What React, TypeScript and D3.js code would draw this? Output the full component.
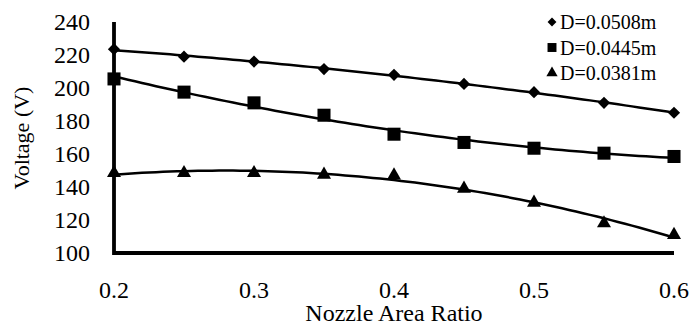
import React, { useEffect, useRef } from 'react';
import * as d3 from 'd3';

const ratios = [0.2, 0.25, 0.3, 0.35, 0.4, 0.45, 0.5, 0.55, 0.6];
const d0508 = [223.5, 219, 216, 211.5, 208, 202.5, 197.5, 191, 185];
const d0445 = [205.5, 197.5, 191, 183.5, 172, 167, 163.5, 160.5, 158.5];
const d0381 = [148.5, 148.5, 148.5, 147.5, 147, 139, 130.5, 118, 111];
const seriesNames = ['D=0.0508m', 'D=0.0445m', 'D=0.0381m'];
const xTicks = [0.2, 0.3, 0.4, 0.5, 0.6];
const yTicks = [100, 120, 140, 160, 180, 200, 220, 240];

// quadratic least squares trendline, like the spreadsheet one
function polyFit(xs: number[], ys: number[]) {
  const s = [0, 0, 0, 0, 0];
  const t = [0, 0, 0];
  xs.forEach((x, i) => {
    for (let k = 0; k < 5; k++) s[k] += Math.pow(x, k);
    for (let k = 0; k < 3; k++) t[k] += Math.pow(x, k) * ys[i];
  });
  const m = [
    [s[0], s[1], s[2], t[0]],
    [s[1], s[2], s[3], t[1]],
    [s[2], s[3], s[4], t[2]],
  ];
  for (let i = 0; i < 3; i++) {
    for (let j = i + 1; j < 3; j++) {
      const f = m[j][i] / m[i][i];
      for (let k = i; k < 4; k++) m[j][k] -= f * m[i][k];
    }
  }
  const c = [0, 0, 0];
  for (let i = 2; i >= 0; i--) {
    let v = m[i][3];
    for (let k = i + 1; k < 3; k++) v -= m[i][k] * c[k];
    c[i] = v / m[i][i];
  }
  return (x: number) => c[0] + c[1] * x + c[2] * x * x;
}

const FONT = "'Liberation Serif', 'Times New Roman', serif";

const App: React.FC = () => {
  const svgRef = useRef<SVGSVGElement>(null);

  useEffect(() => {
    document.body.style.margin = '0';
    const svgElement = svgRef.current;
    if (!svgElement) return;
    const svg = d3.select(svgElement);
    svg.selectAll('*').remove();

    const xScale = d3.scaleLinear().domain([0.2, 0.6]).range([114, 674]);
    const yScale = d3.scaleLinear().domain([100, 240]).range([253, 22]);

    const allSeries = [d0508, d0445, d0381];
    const symbols = [d3.symbolDiamond2, d3.symbolSquare, d3.symbolTriangle];
    const sizes = [95, 170, 85];

    // trendlines
    const line = d3.line<number>().x(d => xScale(d));
    const samples = d3.range(0.2, 0.6001, 0.005);
    allSeries.forEach((vals) => {
      const f = polyFit(ratios, vals);
      svg.append('path')
        .attr('d', line.y(d => yScale(f(d)))(samples))
        .attr('fill', 'none')
        .attr('stroke', '#000')
        .attr('stroke-width', 2.5);
    });

    // axes
    svg.append('path')
      .attr('d', `M${xScale(0.2)},${yScale(240)}V${yScale(100)}H${xScale(0.6)}`)
      .attr('fill', 'none')
      .attr('stroke', '#000')
      .attr('stroke-width', 3.8);

    // markers
    allSeries.forEach((vals, si) => {
      const sym = d3.symbol().type(symbols[si]).size(sizes[si]);
      svg.selectAll(`.m${si}`)
        .data(vals)
        .enter()
        .append('path')
        .attr('class', `m${si}`)
        .attr('transform', (d, i) => `translate(${xScale(ratios[i])},${yScale(d)})`)
        .attr('d', sym())
        .attr('fill', '#000');
    });

    const g = svg.append('g').style('font-family', FONT).attr('fill', '#000');

    // tick labels
    g.selectAll('.yt')
      .data(yTicks)
      .enter()
      .append('text')
      .attr('x', 90)
      .attr('y', d => yScale(d))
      .attr('dy', '0.35em')
      .attr('text-anchor', 'end')
      .attr('font-size', 24)
      .text(d => d);

    g.selectAll('.xt')
      .data(xTicks)
      .enter()
      .append('text')
      .attr('x', d => xScale(d))
      .attr('y', 298)
      .attr('text-anchor', 'middle')
      .attr('font-size', 24)
      .text(d => d.toFixed(1));

    g.append('text')
      .attr('x', 394)
      .attr('y', 321)
      .attr('text-anchor', 'middle')
      .attr('font-size', 24)
      .text('Nozzle Area Ratio');

    g.append('text')
      .attr('transform', 'translate(29,138) rotate(-90)')
      .attr('text-anchor', 'middle')
      .attr('font-size', 22)
      .text('Voltage (V)');

    // legend
    const legendSizes = [50, 80, 55];
    seriesNames.forEach((name, i) => {
      const ly = 22 + i * 25.5;
      svg.append('path')
        .attr('transform', `translate(552,${ly})`)
        .attr('d', d3.symbol().type(symbols[i]).size(legendSizes[i])())
        .attr('fill', '#000');
      g.append('text')
        .attr('x', 560)
        .attr('y', ly)
        .attr('dy', '0.35em')
        .attr('font-size', 20)
        .text(name);
    });
  }, []);

  return (
    <svg
      ref={svgRef}
      width={691}
      height={326}
      style={{ display: 'block', background: '#fff' }}
    />
  );
};

export default App;
